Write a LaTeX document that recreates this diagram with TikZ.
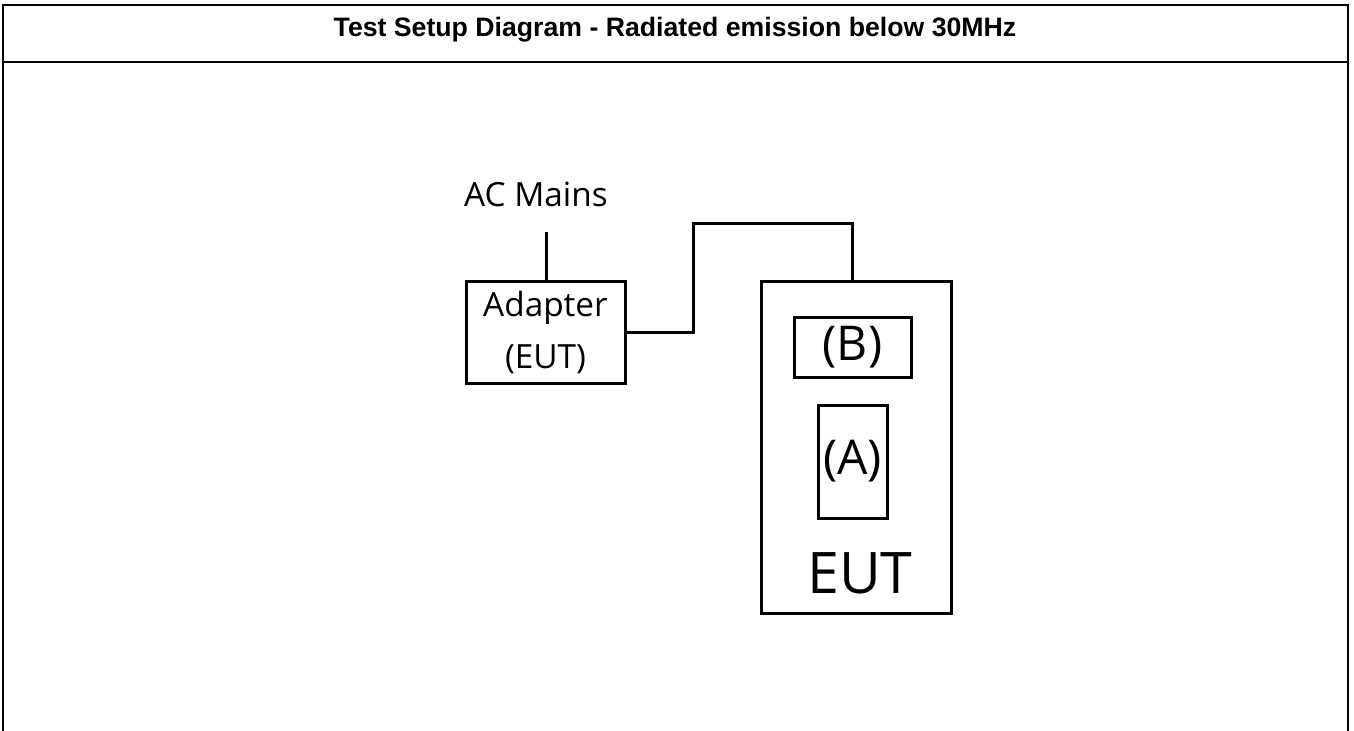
\documentclass[tikz,border=0pt]{standalone}
\usepackage{fontspec}
\setmainfont{Open Sans}
\newfontfamily\headfont{Liberation Sans}
\usetikzlibrary{positioning}
\tikzset{
  frame/.style={line width=2pt},
  box/.style={draw,line width=2.25pt,inner sep=0pt,align=center},
  wire/.style={line width=2.25pt},
  lbl/.style={font=\fontsize{25}{39}\selectfont,align=center},
  part/.style={box,font=\fontsize{36}{40}\selectfont},
}

\begin{document}
\begin{tikzpicture}[x=0.75pt,y=-0.75pt]
  \useasboundingbox (0,0) rectangle (1354,731);
  % table frame and header
  \draw[frame] (3,731) -- (3,5) -- (1348,5) -- (1348,731);
  \draw[frame] (3,62) -- (1348,62);
  \node[font=\headfont\bfseries\fontsize{20}{24}\selectfont,anchor=base] (title) at (675,37) {Test Setup Diagram - Radiated emission below 30MHz};

  % adapter and mains
  \node[box,lbl,minimum width=119.25pt,minimum height=75.75pt] (adapter) at (545.5,332.5) {Adapter\\(EUT)};
  \node[lbl,anchor=base] (mains) at (536,207) {AC Mains};
  \coordinate (plug) at (546,232);
  \draw[wire] (adapter.north -| plug) -- (plug);

  % EUT with its parts
  \node[box,minimum width=142.5pt,minimum height=248.25pt] (eut) at (856,447.5) {};
  \node[part,minimum width=87.75pt,minimum height=45pt] (partB) at (852.5,347) {(B)};
  \node[part,minimum width=51.75pt,minimum height=84.75pt] (partA) at (852.5,461.5) {(A)};
  \node[font=\fontsize{43}{46}\selectfont,anchor=base] (eutname) at (860,593) {EUT};

  % cable
  \coordinate (bend) at (693,224);
  \draw[wire] (adapter.east) -| (bend) -| ([xshift=-3pt]eut.north);
\end{tikzpicture}
\end{document}
